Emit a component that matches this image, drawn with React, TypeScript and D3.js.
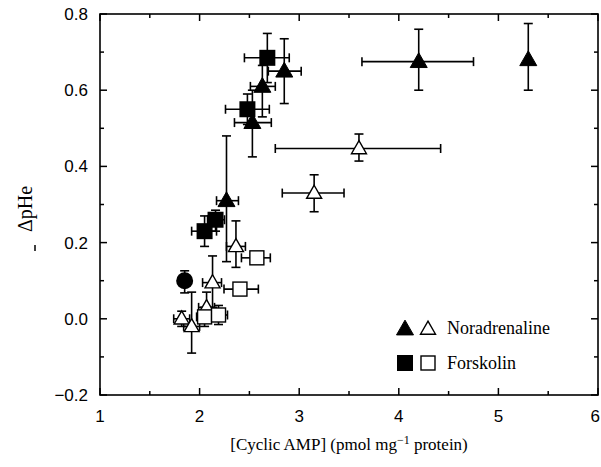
import React from "react";
import * as d3 from "d3";

type Pt = { x: number; y: number; xl?: number; xh?: number; yl?: number; yh?: number };

const xTicks = [1, 2, 3, 4, 5, 6];
const yTicks = [-0.2, 0.0, 0.2, 0.4, 0.6, 0.8];

const noradFilled: Pt[] = [
  { x: 2.27, y: 0.31, xl: 2.17, xh: 2.39, yl: 0.15, yh: 0.48 },
  { x: 2.53, y: 0.515, xl: 2.35, xh: 2.72, yl: 0.425, yh: 0.6 },
  { x: 2.63, y: 0.61, xl: 2.51, xh: 2.76, yl: 0.53, yh: 0.665 },
  { x: 2.85, y: 0.65, xl: 2.69, xh: 3.02, yl: 0.565, yh: 0.735 },
  { x: 4.2, y: 0.675, xl: 3.63, xh: 4.75, yl: 0.6, yh: 0.76 },
  { x: 5.3, y: 0.68, yl: 0.6, yh: 0.775 },
];

const noradOpen: Pt[] = [
  { x: 1.82, y: 0.0, xl: 1.74, xh: 1.9, yl: -0.02, yh: 0.02 },
  { x: 1.92, y: -0.02, xl: 1.84, xh: 2.0, yl: -0.09, yh: 0.07 },
  { x: 2.07, y: 0.03, xl: 1.99, xh: 2.15, yl: -0.01, yh: 0.07 },
  { x: 2.13, y: 0.095, xl: 2.03, xh: 2.22, yl: 0.03, yh: 0.165 },
  { x: 2.365, y: 0.19, xl: 2.27, xh: 2.46, yl: 0.135, yh: 0.257 },
  { x: 3.15, y: 0.33, xl: 2.83, xh: 3.45, yl: 0.281, yh: 0.378 },
  { x: 3.6, y: 0.447, xl: 2.76, xh: 4.42, yl: 0.414, yh: 0.485 },
];

const forskFilled: Pt[] = [
  { x: 2.05, y: 0.23, xl: 1.92, xh: 2.17, yl: 0.19, yh: 0.27 },
  { x: 2.16, y: 0.26, xl: 2.08, xh: 2.25, yl: 0.23, yh: 0.285 },
  { x: 2.48, y: 0.55, xl: 2.26, xh: 2.7, yl: 0.51, yh: 0.59 },
  { x: 2.68, y: 0.685, xl: 2.45, xh: 2.9, yl: 0.62, yh: 0.749 },
];

const forskOpen: Pt[] = [
  { x: 2.05, y: 0.005, xl: 1.97, xh: 2.13, yl: -0.02, yh: 0.03 },
  { x: 2.19, y: 0.01, xl: 2.1, xh: 2.28, yl: -0.015, yh: 0.035 },
  { x: 2.405, y: 0.078, xl: 2.245, xh: 2.59 },
  { x: 2.575, y: 0.16, xl: 2.42, xh: 2.71 },
];

const circleFilled: Pt[] = [{ x: 1.85, y: 0.1, yl: 0.068, yh: 0.126 }];

const legendItems = ["Noradrenaline", "Forskolin"];

const L = 100, R = 598, T = 14, B = 395;
const xs = d3.scaleLinear().domain([1, 6]).range([L, R]);
const ys = d3.scaleLinear().domain([-0.2, 0.8]).range([B, T]);

const serif = "'Liberation Serif', 'DejaVu Serif', serif";
const sans = "'Liberation Sans', Arial, sans-serif";

function ErrBars({ pts }: { pts: Pt[] }) {
  const cap = 4.5;
  return (
    <g stroke="#000" strokeWidth={1.6} fill="none">
      {pts.map((p, i) => {
        const cx = xs(p.x), cy = ys(p.y);
        const els: any[] = [];
        if (p.xl !== undefined && p.xh !== undefined) {
          const a = xs(p.xl), b = xs(p.xh);
          els.push(<line key="h" x1={a} x2={b} y1={cy} y2={cy} />);
          els.push(<line key="hc1" x1={a} x2={a} y1={cy - cap} y2={cy + cap} />);
          els.push(<line key="hc2" x1={b} x2={b} y1={cy - cap} y2={cy + cap} />);
        }
        if (p.yl !== undefined && p.yh !== undefined) {
          const a = ys(p.yl), b = ys(p.yh);
          els.push(<line key="v" x1={cx} x2={cx} y1={a} y2={b} />);
          els.push(<line key="vc1" x1={cx - cap} x2={cx + cap} y1={a} y2={a} />);
          els.push(<line key="vc2" x1={cx - cap} x2={cx + cap} y1={b} y2={b} />);
        }
        return <g key={i}>{els}</g>;
      })}
    </g>
  );
}

const triPath = (cx: number, cy: number, s: number) => {
  const h = s * 0.87;
  return `M${cx},${cy - h * 0.6}L${cx + s / 2},${cy + h * 0.4}L${cx - s / 2},${cy + h * 0.4}Z`;
};

function Tri({ cx, cy, filled }: { cx: number; cy: number; filled: boolean }) {
  return filled ? (
    <path d={triPath(cx, cy, 17)} fill="#000" stroke="#000" strokeWidth={1} />
  ) : (
    <path d={triPath(cx, cy, 15)} fill="#fff" stroke="#000" strokeWidth={1.4} />
  );
}

function Sq({ cx, cy, filled }: { cx: number; cy: number; filled: boolean }) {
  return filled ? (
    <rect x={cx - 8} y={cy - 8} width={16} height={16} fill="#000" />
  ) : (
    <rect x={cx - 7} y={cy - 7} width={14} height={14} fill="#fff" stroke="#000" strokeWidth={1.4} />
  );
}

export default function App() {
  const xMinor = d3.range(1, 6.01, 0.5);
  const yMinor = d3.range(-0.2, 0.801, 0.1);
  return (
    <svg width={601} height={467} style={{ position: "absolute", left: 0, top: 0 }}>
      <rect width={601} height={467} fill="#fff" />
      <ErrBars pts={noradOpen} />
      <ErrBars pts={forskOpen} />
      <ErrBars pts={circleFilled} />
      <ErrBars pts={forskFilled} />
      <ErrBars pts={noradFilled} />
      {noradOpen.map((p, i) => (
        <Tri key={"no" + i} cx={xs(p.x)} cy={ys(p.y)} filled={false} />
      ))}
      {forskOpen.map((p, i) => (
        <Sq key={"fo" + i} cx={xs(p.x)} cy={ys(p.y)} filled={false} />
      ))}
      {circleFilled.map((p, i) => (
        <circle key={"c" + i} cx={xs(p.x)} cy={ys(p.y)} r={8.5} fill="#000" />
      ))}
      {forskFilled.map((p, i) => (
        <Sq key={"ff" + i} cx={xs(p.x)} cy={ys(p.y)} filled={true} />
      ))}
      {noradFilled.map((p, i) => (
        <Tri key={"nf" + i} cx={xs(p.x)} cy={ys(p.y)} filled={true} />
      ))}
      <rect x={L} y={T} width={R - L} height={B - T} fill="none" stroke="#000" strokeWidth={1.6} />
      <g stroke="#000" strokeWidth={1.5}>
        {xMinor.map((v, i) => {
          const major = Math.abs(v - Math.round(v)) < 1e-6;
          const len = major ? 7 : 4;
          return (
            <g key={"xt" + i}>
              <line x1={xs(v)} x2={xs(v)} y1={B} y2={B - len} />
              <line x1={xs(v)} x2={xs(v)} y1={T} y2={T + len} />
            </g>
          );
        })}
        {yMinor.map((v, i) => {
          const major = i % 2 === 0;
          const len = major ? 7 : 4;
          return (
            <g key={"yt" + i}>
              <line x1={L} x2={L + len} y1={ys(v)} y2={ys(v)} />
              <line x1={R} x2={R - len} y1={ys(v)} y2={ys(v)} />
            </g>
          );
        })}
      </g>
      <g fontFamily={sans} fontSize={17} fill="#000">
        {xTicks.map((v) => (
          <text
            key={"xl" + v}
            x={v === 6 ? 600 : xs(v)}
            y={B + 27}
            textAnchor={v === 6 ? "end" : "middle"}
          >
            {v}
          </text>
        ))}
        {yTicks.map((v) => (
          <text key={"yl" + v} x={L - 12} y={ys(v) + 6} textAnchor="end">
            {v < 0 ? "\u2212" + Math.abs(v).toFixed(1) : v.toFixed(1)}
          </text>
        ))}
      </g>
      <text x={349} y={450} textAnchor="middle" fontFamily={serif} fontSize={17}>
        [Cyclic AMP] (pmol mg
        <tspan dy={-6} fontSize={12}>−1</tspan>
        <tspan dy={6}> protein)</tspan>
      </text>
      <text
        transform="translate(32,209) rotate(-90)"
        textAnchor="middle"
        fontFamily={serif}
        fontSize={20}
      >
        ΔpHe
      </text>
      <line x1={35} x2={35} y1={245} y2={251} stroke="#000" strokeWidth={1.5} />
      <g>
        <Tri cx={405} cy={329} filled={true} />
        <Tri cx={428} cy={329} filled={false} />
        <text x={447} y={334} fontFamily={serif} fontSize={18}>
          {legendItems[0]}
        </text>
        <Sq cx={405} cy={363} filled={true} />
        <Sq cx={428} cy={363} filled={false} />
        <text x={447} y={369} fontFamily={serif} fontSize={18}>
          {legendItems[1]}
        </text>
      </g>
    </svg>
  );
}
